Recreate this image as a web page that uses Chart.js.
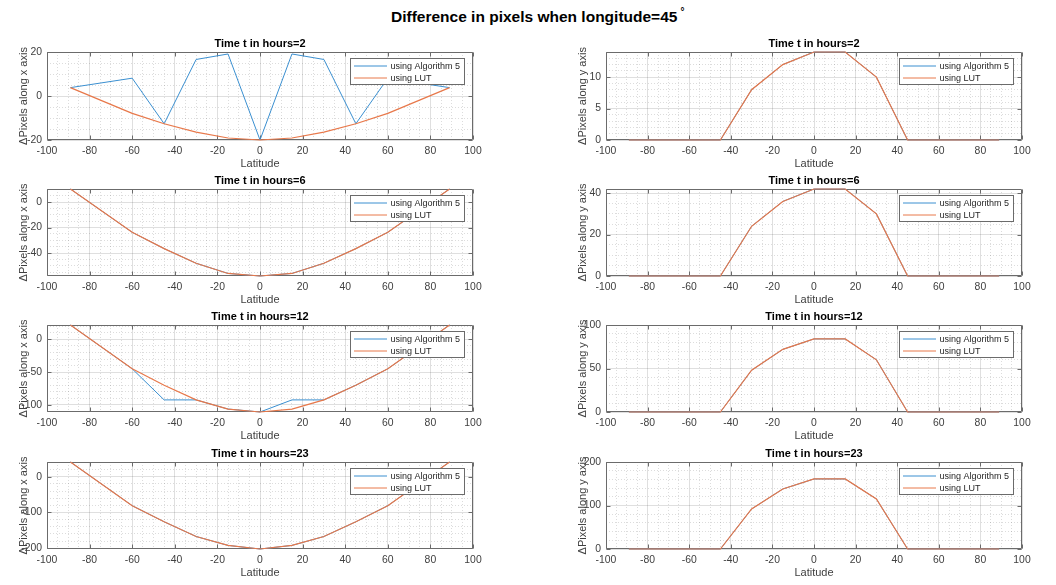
<!DOCTYPE html>
<html>
<head>
<meta charset="utf-8">
<script src="https://cdn.jsdelivr.net/npm/chart.js@4.4.1/dist/chart.umd.min.js"></script>
<style>
  html, body { margin: 0; padding: 0; background: #fff; }
  #fig { position: relative; width: 1056px; height: 585px; overflow: hidden; font-family: "Liberation Sans", Arial, sans-serif; }
  #fig canvas { position: absolute; }
  #suptitle { position: absolute; left: 391px; top: 8px; font-size: 15.5px; line-height: 18px; font-weight: bold; color: #000; white-space: nowrap; }
  #suptitle .deg { font-size: 10px; position: relative; top: -7px; margin-left: 3px; }
</style>
</head>
<body>
<div id="fig">
  <div id="suptitle">Difference in pixels when longitude=45<span class="deg">°</span></div>
</div>
<script>
// latitude samples (degrees) shared by every panel
const latitudes = [-89, -60, -45, -30, -15, 0, 15, 30, 45, 60, 89];
const xTicks = [-100, -80, -60, -40, -20, 0, 20, 40, 60, 80, 100];

// t = 2 h
const dxAlgT2 = [3.8, 8.1, -12.6, 16.6, 19.1, -20, 19.1, 16.6, -12.6, 8.1, 3.8];
const dxLutT2 = [3.8, -7.9, -12.6, -16.4, -19.1, -20, -19.1, -16.4, -12.6, -7.9, 3.8];
const dyAlgT2 = [0, 0, 0, 8, 12, 14, 14, 10, 0, 0, 0];
const dyLutT2 = [0, 0, 0, 8, 12, 14, 14, 10, 0, 0, 0];

// t = 6 h
const dxAlgT6 = [10.3, -23.7, -36.5, -48, -56, -58, -56, -48, -36.5, -23.7, 10.3];
const dxLutT6 = [10.3, -23.7, -36.5, -48, -56, -58, -56, -48, -36.5, -23.7, 10.3];
const dyAlgT6 = [0, 0, 0, 24, 36, 42, 42, 30, 0, 0, 0];
const dyLutT6 = [0, 0, 0, 24, 36, 42, 42, 30, 0, 0, 0];

// t = 12 h
const dxAlgT12 = [22, -45, -92.5, -92.5, -106.5, -111, -92.5, -92.5, -70, -45, 22];
const dxLutT12 = [22, -45, -70, -92.5, -106.5, -111, -106.5, -92.5, -70, -45, 22];
const dyAlgT12 = [0, 0, 0, 48, 72, 84, 84, 60, 0, 0, 0];
const dyLutT12 = [0, 0, 0, 48, 72, 84, 84, 60, 0, 0, 0];

// t = 23 h
const dxAlgT23 = [41, -81, -126, -167, -192, -202, -192, -167, -126, -81, 41];
const dxLutT23 = [41, -81, -126, -167, -192, -202, -192, -167, -126, -81, 41];
const dyAlgT23 = [0, 0, 0, 92, 138, 161, 161, 115, 0, 0, 0];
const dyLutT23 = [0, 0, 0, 92, 138, 161, 161, 115, 0, 0, 0];

// y tick labels per panel
const yTicksDxT2 = [-20, 0, 20];
const yTicksDyT2 = [0, 5, 10];
const yTicksDxT6 = [-40, -20, 0];
const yTicksDyT6 = [0, 20, 40];
const yTicksDxT12 = [-100, -50, 0];
const yTicksDyT12 = [0, 50, 100];
const yTicksDxT23 = [-200, -100, 0];
const yTicksDyT23 = [0, 100, 200];

const BLUE = '#3a8fd0';
const ORANGE = '#e8784a';
const FONT = '"Liberation Sans", Arial, sans-serif';
const MAJOR_GRID = 'rgba(38,38,38,0.15)';
const MINOR_GRID = 'rgba(38,38,38,0.16)';

// subplot geometry (axes box in page pixels)
const colLeft = [47, 606];
const colWidth = [426, 416];
const rowTop = [52, 189, 325, 462];
const rowHeight = [88, 87, 87, 87];
const PAD_L = 47, PAD_R = 14, PAD_T = 18, PAD_B = 31;

const panels = [
  { row: 0, col: 0, hour: 2, alg: dxAlgT2, lut: dxLutT2, axis: 'x', min: -20, max: 20, ticks: yTicksDxT2, minor: 5 },
  { row: 0, col: 1, hour: 2, alg: dyAlgT2, lut: dyLutT2, axis: 'y', min: 0, max: 14, ticks: yTicksDyT2, minor: 1 },
  { row: 1, col: 0, hour: 6, alg: dxAlgT6, lut: dxLutT6, axis: 'x', min: -58, max: 10.3, ticks: yTicksDxT6, minor: 5 },
  { row: 1, col: 1, hour: 6, alg: dyAlgT6, lut: dyLutT6, axis: 'y', min: 0, max: 42, ticks: yTicksDyT6, minor: 5 },
  { row: 2, col: 0, hour: 12, alg: dxAlgT12, lut: dxLutT12, axis: 'x', min: -111, max: 22, ticks: yTicksDxT12, minor: 10 },
  { row: 2, col: 1, hour: 12, alg: dyAlgT12, lut: dyLutT12, axis: 'y', min: 0, max: 100, ticks: yTicksDyT12, minor: 10 },
  { row: 3, col: 0, hour: 23, alg: dxAlgT23, lut: dxLutT23, axis: 'x', min: -202, max: 41, ticks: yTicksDxT23, minor: 20 },
  { row: 3, col: 1, hour: 23, alg: dyAlgT23, lut: dyLutT23, axis: 'y', min: 0, max: 200, ticks: yTicksDyT23, minor: 20 }
];

function minorValues(min, max, step) {
  const out = [];
  for (let v = Math.ceil(min / step) * step; v <= max + 1e-9; v += step) out.push(v);
  return out;
}

function toPoints(ys) {
  return latitudes.map((lat, i) => ({ x: lat, y: ys[i] }));
}

// frame with inward ticks, and a boxed legend in the upper right corner
const axesFrame = {
  id: 'axesFrame',
  beforeDatasetsDraw(chart) {
    const { ctx, chartArea: a, scales } = chart;
    const l = Math.round(a.left) + 0.5, r = Math.round(a.right) - 0.5;
    const t = Math.round(a.top) + 0.5, b = Math.round(a.bottom) - 0.5;
    ctx.save();
    ctx.strokeStyle = '#6b6b6b';
    ctx.lineWidth = 1;
    ctx.beginPath();
    scales.x.ticks.forEach(tk => {
      const px = Math.round(scales.x.getPixelForValue(tk.value)) + 0.5;
      ctx.moveTo(px, b); ctx.lineTo(px, b - 4);
      ctx.moveTo(px, t); ctx.lineTo(px, t + 4);
    });
    scales.y.ticks.forEach(tk => {
      const py = Math.round(scales.y.getPixelForValue(tk.value)) + 0.5;
      ctx.moveTo(l, py); ctx.lineTo(l + 4, py);
      ctx.moveTo(r, py); ctx.lineTo(r - 4, py);
    });
    ctx.rect(l, t, r - l, b - t);
    ctx.stroke();
    ctx.restore();
  },
  afterDraw(chart) {
    const { ctx, chartArea: a } = chart;
    const items = chart.data.datasets;
    ctx.save();
    ctx.font = '9px ' + FONT;
    const tw = Math.max(...items.map(d => ctx.measureText(d.label).width));
    const w = Math.round(4 + 33 + 3 + tw + 4), h = 26;
    const x = Math.round(a.right - 9 - w) + 0.5, y = Math.round(a.top + 6) + 0.5;
    ctx.fillStyle = '#fff';
    ctx.fillRect(x, y, w, h);
    ctx.strokeStyle = '#6b6b6b';
    ctx.lineWidth = 1;
    ctx.strokeRect(x, y, w, h);
    items.forEach((d, i) => {
      const cy = Math.round(y + 7.5 + i * 12);
      ctx.strokeStyle = d.borderColor;
      ctx.beginPath();
      ctx.moveTo(x + 3.5, cy); ctx.lineTo(x + 36.5, cy);
      ctx.stroke();
      ctx.fillStyle = '#262626';
      ctx.textBaseline = 'middle';
      ctx.textAlign = 'left';
      ctx.fillText(d.label, x + 40, cy + 0.5);
    });
    ctx.restore();
  }
};

const fig = document.getElementById('fig');

panels.forEach(p => {
  const axL = colLeft[p.col], axW = colWidth[p.col];
  const axT = rowTop[p.row], axH = rowHeight[p.row];
  const W = PAD_L + axW + PAD_R, H = PAD_T + axH + PAD_B;
  const canvas = document.createElement('canvas');
  canvas.width = W; canvas.height = H;
  canvas.style.left = (axL - PAD_L) + 'px';
  canvas.style.top = (axT - PAD_T) + 'px';
  canvas.style.width = W + 'px';
  canvas.style.height = H + 'px';
  fig.appendChild(canvas);

  const tickFont = { family: FONT, size: 10.4 };
  const labelFont = { family: FONT, size: 11 };

  new Chart(canvas, {
    type: 'line',
    data: {
      datasets: [
        { label: 'using Algorithm 5', data: toPoints(p.alg), borderColor: BLUE, borderWidth: 1, order: 2, clip: false },
        { label: 'using LUT', data: toPoints(p.lut), borderColor: ORANGE, borderWidth: 1.2, order: 1, clip: false }
      ]
    },
    options: {
      responsive: false,
      animation: false,
      devicePixelRatio: 1,
      layout: { padding: { left: 0, right: PAD_R, top: 0, bottom: 0 }, autoPadding: false },
      elements: {
        point: { radius: 0, hoverRadius: 0 },
        line: { tension: 0, fill: false }
      },
      plugins: {
        legend: { display: false },
        tooltip: { enabled: false },
        title: {
          display: true,
          fullSize: false,
          text: 'Time t in hours=' + p.hour,
          color: '#000',
          font: { family: FONT, size: 11, weight: 'bold' },
          padding: { top: 3.4, bottom: 1.4 }
        }
      },
      scales: {
        x: {
          type: 'linear', position: 'bottom', min: -100, max: 100,
          afterBuildTicks: s => { s.ticks = xTicks.map(v => ({ value: v })); },
          afterFit: s => { s.height = PAD_B; },
          grid: { color: MAJOR_GRID, drawTicks: false },
          border: { display: false },
          ticks: { font: tickFont, color: '#404040', padding: 5, autoSkip: false, maxRotation: 0 },
          title: { display: true, text: 'Latitude', font: labelFont, color: '#404040', padding: { top: 0, bottom: 0.4 } }
        },
        xMinor: {
          type: 'linear', axis: 'x', position: 'bottom', min: -100, max: 100,
          afterBuildTicks: s => { s.ticks = minorValues(-100, 100, 5).map(v => ({ value: v })); },
          afterFit: s => { s.height = 0; },
          grid: { color: c => (c.tick && c.tick.value % 20 === 0) ? 'rgba(0,0,0,0)' : MINOR_GRID, drawTicks: false },
          border: { display: false, dash: [1, 2] },
          ticks: { display: false }
        },
        y: {
          type: 'linear', position: 'left', min: p.min, max: p.max,
          afterBuildTicks: s => { s.ticks = p.ticks.map(v => ({ value: v })); },
          afterFit: s => { s.width = PAD_L; },
          grid: { color: MAJOR_GRID, drawTicks: false },
          border: { display: false },
          ticks: { font: tickFont, color: '#404040', padding: 5 },
          title: { display: true, text: 'ΔPixels along ' + p.axis + ' axis', font: labelFont, color: '#404040', padding: { top: 16.9, bottom: 0 } }
        },
        yMinor: {
          type: 'linear', axis: 'y', position: 'left', min: p.min, max: p.max,
          afterBuildTicks: s => { s.ticks = minorValues(p.min, p.max, p.minor).map(v => ({ value: v })); },
          afterFit: s => { s.width = 0; },
          grid: { color: c => (c.tick && p.ticks.includes(c.tick.value)) ? 'rgba(0,0,0,0)' : MINOR_GRID, drawTicks: false },
          border: { display: false, dash: [1, 2] },
          ticks: { display: false }
        }
      }
    },
    plugins: [axesFrame]
  });
});
</script>
</body>
</html>
